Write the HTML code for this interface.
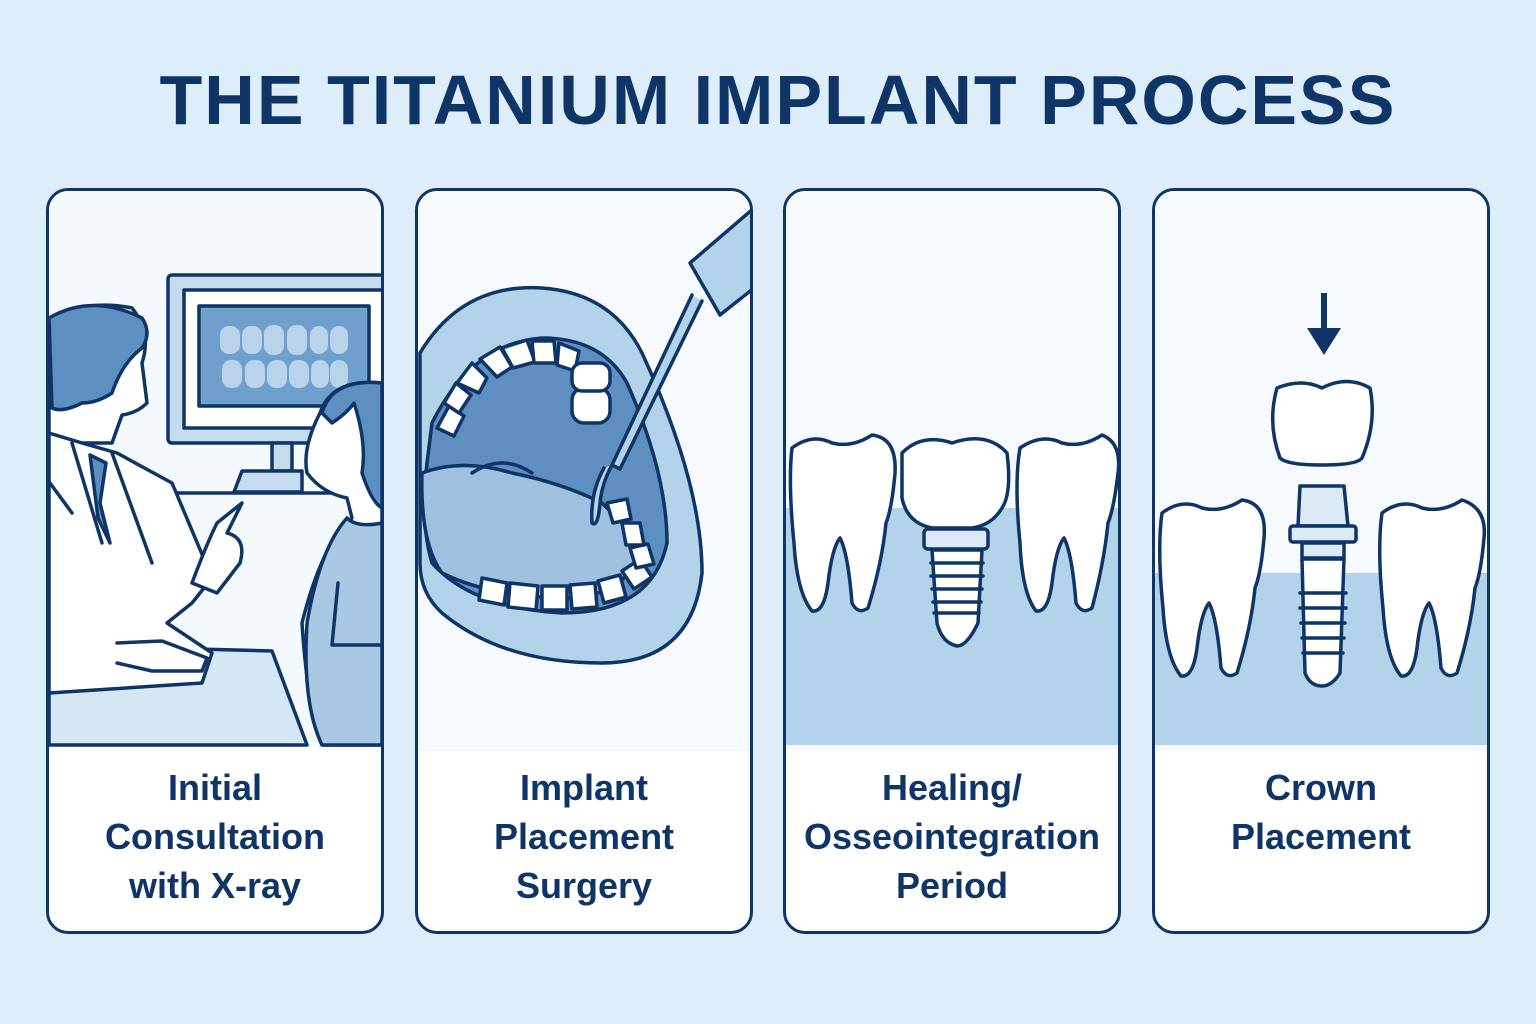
<!DOCTYPE html>
<html><head><meta charset="utf-8"><style>
html,body{margin:0;padding:0}
body{width:1536px;height:1024px;background:#ddeefa;position:relative;overflow:hidden;font-family:"Liberation Sans",sans-serif}
h1{position:absolute;top:58px;left:10px;width:1536px;text-align:center;margin:0;font-size:70px;font-weight:bold;color:#0f3566;letter-spacing:2px;line-height:84px}
.card{position:absolute;top:188px;width:332px;height:740px;border:3.5px solid #0f3566;border-radius:22px;background:#fff;overflow:hidden}
.card svg{position:absolute;left:0;top:0}
.lbl{position:absolute;left:0;width:100%;top:572px;text-align:center;font-size:36px;line-height:49px;color:#0f3566;font-weight:bold}
</style></head><body>
<h1>THE TITANIUM IMPLANT PROCESS</h1>

<div class="card" style="left:46px">
<svg width="333" height="560" viewBox="47 188 333 560">
<g stroke="#0f3566" stroke-width="3.5" stroke-linejoin="round" stroke-linecap="round">
<rect x="47" y="188" width="336" height="555" fill="#f4f9fe" stroke="none"/>
<rect x="166" y="272" width="220" height="168" rx="4" fill="#c4dcee"/>
<rect x="182" y="287" width="200" height="138" fill="#fff"/>
<rect x="197" y="303" width="170" height="100" fill="#6f9fcc"/>
<g fill="#b8d3ea" stroke="none">
<rect x="218" y="323" width="20" height="28" rx="9"/><rect x="240" y="323" width="20" height="28" rx="9"/><rect x="262" y="322" width="20" height="30" rx="9"/><rect x="285" y="322" width="20" height="30" rx="9"/><rect x="308" y="323" width="18" height="28" rx="9"/><rect x="328" y="323" width="18" height="28" rx="9"/>
<rect x="220" y="357" width="20" height="28" rx="9"/><rect x="243" y="357" width="20" height="28" rx="9"/><rect x="265" y="357" width="20" height="28" rx="9"/><rect x="287" y="357" width="20" height="28" rx="9"/><rect x="309" y="357" width="18" height="28" rx="9"/><rect x="328" y="357" width="18" height="28" rx="9"/>
</g>
<rect x="270" y="440" width="20" height="28" fill="#c4dcee"/>
<path d="M232 489 L240 468 H300 V489 Z" fill="#c4dcee"/>
<path d="M47 742 V660 L155 645 L270 648 L305 742 Z" fill="#d6e7f4"/>
<path d="M47 490 H380" fill="none"/>
<path d="M47 320 Q80 295 130 305 Q150 330 140 360 L145 400 Q135 410 120 412 L110 440 L47 440 Z" fill="#fff"/>
<path d="M47 315 Q90 290 140 315 Q150 330 140 345 Q120 360 110 390 Q95 400 80 400 Q60 410 50 405 Z" fill="#5e8fc1"/>
<path d="M47 430 L80 440 L115 450 L170 480 L210 575 L190 600 L165 620 L210 650 L200 680 L47 690 Z" fill="#fff"/>
<path d="M88 452 L104 460 L98 500 L108 540 L96 515 Z" fill="#5e8fc1"/>
<path d="M110 450 L150 560 M70 440 L100 540 M48 480 L70 510" fill="none"/>
<path d="M190 580 Q205 540 215 520 L240 500 L225 530 Q245 535 238 560 L215 590 Z" fill="#fff"/>
<path d="M115 640 L160 638 L205 655 L200 668 L150 668 L115 660" fill="#fff"/>
<path d="M380 380 Q330 375 318 410 Q300 445 305 470 Q320 490 345 495 L350 515 Q320 540 300 620 Q305 700 320 742 H380 Z" fill="#fff"/>
<path d="M380 380 Q330 375 320 410 L330 420 Q345 410 352 400 Q365 440 360 470 Q370 500 380 505 Z" fill="#5e8fc1"/>
<path d="M345 515 Q355 525 380 520 V742 H320 Q300 700 305 620 Q318 545 345 515 Z" fill="#a8c8e4"/>
<path d="M336 580 L330 642 L380 642" fill="none"/>
</g>
</svg>
<div class="lbl">Initial<br>Consultation<br>with X-ray</div>
</div>

<div class="card" style="left:415px">
<svg width="333" height="560" viewBox="416 188 333 560">
<rect x="416" y="188" width="336" height="560" fill="#f6fafe"/>
<g stroke="#0f3566" stroke-width="3.5" stroke-linejoin="round" stroke-linecap="round">
<path d="M418 350 Q460 280 540 285 Q610 290 640 350 Q700 480 700 570 Q690 660 600 660 Q500 660 440 610 Q418 590 418 560 Z" fill="#b3d3ea"/>
<path d="M430 420 Q470 340 540 335 Q600 335 625 380 Q665 470 665 540 Q650 610 560 610 Q470 605 430 560 Q418 520 425 460 Z" fill="#5f8fc0"/>
<path d="M420 470 Q460 455 510 470 Q560 480 600 500 L640 540 Q630 590 570 595 Q490 595 440 570 Q418 540 420 470 Z" fill="#9ec1e0"/>
<path d="M470 470 Q500 450 530 470" fill="none"/>
<g fill="#fff">
<path d="M455 380 l15 -20 15 15 -8 15z"/><path d="M478 356 l20 -12 12 20 -15 10z"/><path d="M500 345 l25 -8 8 22 -22 6z"/><path d="M530 338 l22 0 2 22 -22 0z"/><path d="M557 340 l20 8 -4 20 -18 -6z"/>
<rect x="570" y="385" width="38" height="35" rx="12"/><rect x="570" y="360" width="38" height="28" rx="10"/>
<path d="M435 425 l12 -22 15 10 -10 20z"/><path d="M442 400 l12 -20 15 12 -12 18z"/>
<path d="M480 575 l25 5 -3 22 -25 -5z"/><path d="M508 580 l28 3 -2 24 -28 -3z"/><path d="M540 583 l25 0 0 24 -25 0z"/><path d="M568 582 l25 -2 2 24 -25 2z"/><path d="M596 578 l22 -6 6 22 -22 6z"/>
<path d="M620 568 l18 -12 12 18 -18 12z"/><path d="M628 545 l18 -4 6 20 -18 4z"/><path d="M620 520 l18 0 4 22 -18 0z"/><path d="M605 500 l20 -4 4 20 -18 4z"/>
</g>
<path d="M688 260 L752 205 V285 L718 312 Z" fill="#b3d3ea"/>
<path d="M690 292 L610 462 L618 466 L700 298" fill="#b3d3ea"/>
<path d="M610 462 Q600 480 598 500 Q596 525 590 520 Q588 490 602 465" fill="#b3d3ea"/>
</g>
</svg>
<div class="lbl">Implant<br>Placement<br>Surgery</div>
</div>

<div class="card" style="left:783px">
<svg width="333" height="560" viewBox="784 188 333 560">
<rect x="784" y="188" width="336" height="560" fill="#f6fafe"/>
<rect x="784" y="505" width="336" height="237" fill="#b3d3ea"/>
<g stroke="#0f3566" stroke-width="3.5" stroke-linejoin="round" stroke-linecap="round" fill="#fff">
<path d="M790 445 Q810 430 830 440 Q850 445 870 432 Q895 435 893 470 Q890 505 884 520 Q880 560 866 605 Q856 612 850 600 Q846 550 838 535 Q830 545 826 580 Q822 610 810 608 Q795 590 792 540 Q786 480 790 445 Z"/>
<path d="M900 450 Q920 430 950 440 Q985 428 1005 450 Q1010 490 1000 505 Q990 522 970 525 L930 525 Q905 520 900 495 Z"/>
<rect x="922" y="526" width="64" height="20" rx="4" fill="#dbe9f5"/>
<path d="M930 547 H980 L976 620 Q965 643 955 643 Q940 640 935 620 Z"/>
<path d="M929 560 H981 M929 573 H981 M930 586 H980 M931 599 H979 M932 610 H977" fill="none"/>
<path d="M1018 445 Q1040 430 1060 440 Q1080 445 1100 432 Q1120 440 1116 470 Q1112 505 1106 520 Q1102 560 1090 605 Q1080 612 1074 600 Q1070 550 1062 535 Q1054 545 1050 580 Q1046 610 1034 608 Q1020 590 1018 540 Q1012 480 1018 445 Z"/>
</g>
</svg>
<div class="lbl">Healing/<br>Osseointegration<br>Period</div>
</div>

<div class="card" style="left:1152px">
<svg width="333" height="560" viewBox="1153 188 333 560">
<rect x="1153" y="188" width="336" height="560" fill="#f6fafe"/>
<rect x="1153" y="570" width="336" height="172" fill="#b3d3ea"/>
<g stroke="#0f3566" stroke-width="3.5" stroke-linejoin="round" stroke-linecap="round" fill="#fff">
<path d="M1160 510 Q1180 495 1200 505 Q1220 510 1240 497 Q1265 500 1262 535 Q1259 570 1253 585 Q1249 625 1235 670 Q1225 677 1219 665 Q1215 615 1207 600 Q1199 610 1195 645 Q1191 675 1179 673 Q1164 655 1161 605 Q1155 545 1160 510 Z"/>
<path d="M1380 510 Q1400 495 1420 505 Q1440 510 1460 497 Q1485 505 1482 535 Q1479 570 1473 585 Q1469 625 1455 670 Q1445 677 1439 665 Q1435 615 1427 600 Q1419 610 1415 645 Q1411 675 1399 673 Q1384 655 1381 605 Q1375 545 1380 510 Z"/>
<path d="M1275 385 Q1300 375 1320 385 Q1345 372 1368 385 Q1375 420 1360 455 Q1355 462 1320 462 Q1285 462 1278 455 Q1265 420 1275 385 Z"/>
<path d="M1298 483 H1342 L1346 523 H1296 Z" fill="#dbe9f5"/>
<rect x="1288" y="523" width="66" height="16" rx="3" fill="#dbe9f5"/>
<path d="M1300 540 H1342 V555 H1300 Z" fill="#dbe9f5"/>
<path d="M1300 556 H1342 L1338 670 Q1330 683 1320 683 Q1308 683 1303 670 Z"/>
<path d="M1298 590 H1344 M1298 605 H1344 M1299 620 H1343 M1300 635 H1342 M1301 650 H1341" fill="none"/>
</g>
<path d="M1322 290 V335" stroke="#0f3566" stroke-width="6"/>
<path d="M1305 325 L1322 352 L1339 325 Z" fill="#0f3566"/>
</svg>
<div class="lbl">Crown<br>Placement</div>
</div>
</body></html>
